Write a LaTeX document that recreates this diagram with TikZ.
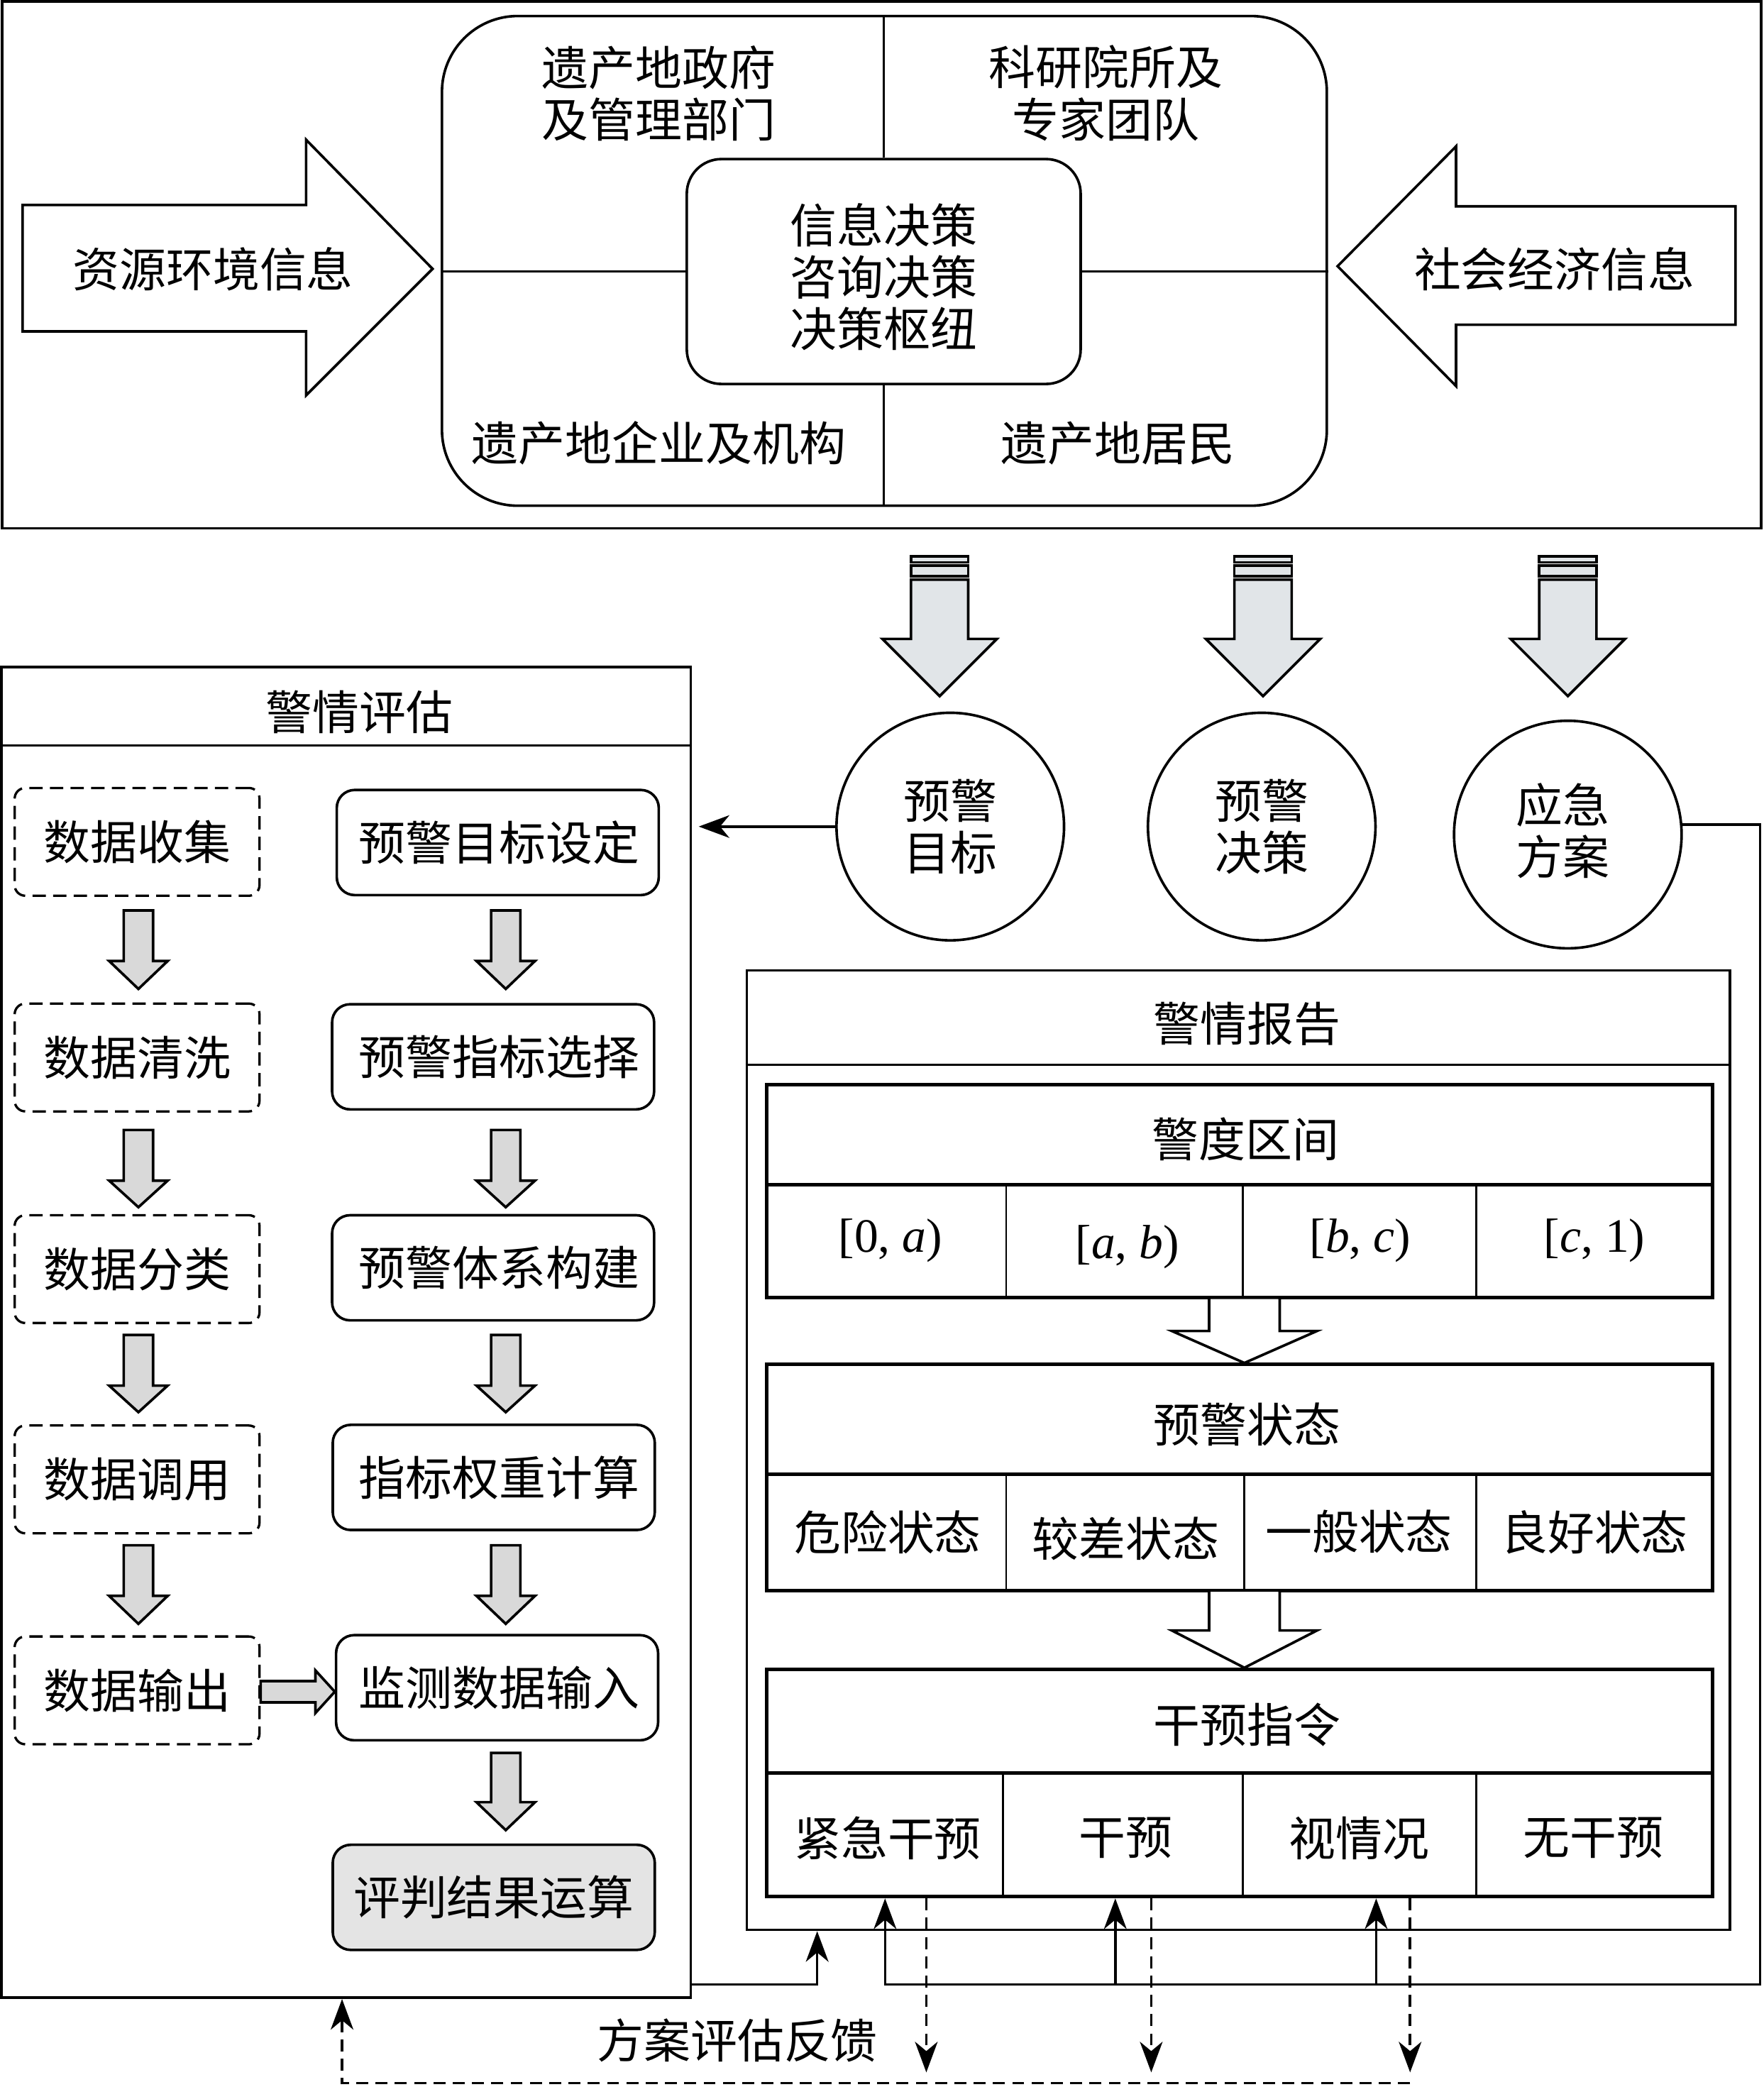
\documentclass[tikz,border=0pt]{standalone}
\usepackage{fontspec}
\setmainfont{Noto Sans CJK SC}
\newfontfamily\lserif{Liberation Serif}
\usetikzlibrary{arrows.meta}
\definecolor{topgray}{HTML}{E1E5E8}
\definecolor{boxgray}{HTML}{D9D9D9}
\definecolor{resgray}{HTML}{E4E4E4}
\newcommand\blockdown[7]{%
  \draw[#1] ({#2-#6},#3) -- ({#2+#6},#3) -- ({#2+#6},#4) -- ({#2+#7},#4) -- (#2,#5) -- ({#2-#7},#4) -- ({#2-#6},#4) -- cycle;}
\newcommand\stripedown[1]{%
  \draw[toparrow] ({#1-21.5},418) rectangle ({#1+21.5},422.5);
  \draw[toparrow] ({#1-21.5},425) rectangle ({#1+21.5},433);
  \blockdown{toparrow}{#1}{435.5}{480}{523}{21.5}{43}}
\begin{document}
\begin{tikzpicture}[x=0.02cm,y=-0.02cm,
  every node/.style={font=\fontsize{20}{22.2}\selectfont, inner sep=0pt, align=center},
  frame/.style={draw, line width=1.1pt},
  toparrow/.style={draw, line width=1.1pt, fill=topgray},
  grayarr/.style={draw, line width=1.1pt, fill=boxgray},
  hollow/.style={draw, line width=1.1pt, fill=white},
  dbox/.style={draw, line width=1pt, dash pattern=on 0.2cm off 0.11cm, rounded corners=0.16cm, minimum width=3.68cm, minimum height=1.62cm},
  sbox/.style={draw, line width=1.1pt, rounded corners=0.27cm, minimum width=4.84cm, minimum height=1.58cm},
  circ/.style={draw, circle, line width=1.1pt, minimum size=3.42cm},
  tbl/.style={draw, line width=1.5pt, minimum width=14.22cm},
  tline/.style={line width=1.5pt},
  dline/.style={line width=0.9pt},
  conn/.style={line width=1.1pt},
  fb/.style={line width=1.1pt, dash pattern=on 0.18cm off 0.11cm},
  arr/.style={-{Stealth[length=0.46cm,width=0.34cm,inset=0.14cm]}},
  ival/.style={font=\lserif\fontsize{20.5}{24}\selectfont}
]
\useasboundingbox (0,0) rectangle (1325,1568);

% ---------------- top panel ----------------
\node[frame, minimum width=26.44cm, minimum height=7.92cm] (top) at (662.5,199) {};
\node[frame, rounded corners=1.14cm, minimum width=13.3cm, minimum height=7.36cm] (hub) at (664.5,196) {};
\node[frame, rounded corners=0.52cm, minimum width=5.92cm, minimum height=3.38cm, fill=white] (core) at (664,204) {};
\node (coretxt) at (664,208) {信息决策\\咨询决策\\决策枢纽};
\draw[frame] (core.north) -- (core.north |- hub.north);
\draw[frame] (core.south) -- (core.south |- hub.south);
\draw[frame] (core.west) -- (core.west -| hub.west);
\draw[frame] (core.east) -- (core.east -| hub.east);
\node (gov) at (495,70) {遗产地政府\\及管理部门};
\node (sci) at (831,70) {科研院所及\\专家团队};
\node (ent) at (495,333) {遗产地企业及机构};
\node (res) at (840,333) {遗产地居民};
% big side arrows
\draw[frame] (17,154) -- (230,154) -- (230,105) -- (325,202) -- (230,297) -- (230,249) -- (17,249) -- cycle;
\node (envinfo) at (160,202) {资源环境信息};
\draw[frame] (1304,155) -- (1094,155) -- (1094,110) -- (1005,200) -- (1094,290) -- (1094,244) -- (1304,244) -- cycle;
\node (socinfo) at (1168,202) {社会经济信息};

% ---------------- striped arrows + circles ----------------
\stripedown{706}
\stripedown{949}
\stripedown{1178}
\node[circ] (c1) at (714,621) {预警\\目标};
\node[circ] (c2) at (948,621) {预警\\决策};
\node[circ] (c3) at (1178,627) {};
\node (c3t) at (1174,624) {应急\\方案};

% ---------------- left box ----------------
\node[frame, minimum width=10.36cm, minimum height=20cm] (lbox) at (260,1001) {};
\draw[frame] (lbox.west |- 0,560) -- (lbox.east |- 0,560);
\node (ltitle) at (270,535) {警情评估};

\node[dbox] (d1) at (103,632.5) {数据收集};
\node[dbox] (d2) at (103,794.5) {数据清洗};
\node[dbox] (d3) at (103,953.5) {数据分类};
\node[dbox] (d4) at (103,1111.5) {数据调用};
\node[dbox] (d5) at (103,1270) {数据输出};

\node[sbox] (s1) at (374,633) {};
\node[sbox] (s2) at (370.5,794) {};
\node[sbox] (s3) at (370.5,952.5) {};
\node[sbox] (s4) at (371,1110) {};
\node[sbox] (s5) at (373.5,1268) {};
\node[sbox, fill=resgray] (s6) at (371,1425.5) {};
\node (s1t) at (375,633) {预警目标设定};
\node (s2t) at (375,794) {预警指标选择};
\node (s3t) at (375,952.5) {预警体系构建};
\node (s4t) at (375,1110) {指标权重计算};
\node (s5t) at (375,1268) {监测数据输入};
\node (s6t) at (371,1425.5) {评判结果运算};

\blockdown{grayarr}{104}{684}{722}{743}{11}{22}
\blockdown{grayarr}{104}{849}{887}{907}{11}{22}
\blockdown{grayarr}{104}{1003}{1041}{1061}{11}{22}
\blockdown{grayarr}{104}{1161}{1199}{1220}{11}{22}
\blockdown{grayarr}{380}{684}{722}{743}{11}{22}
\blockdown{grayarr}{380}{849}{887}{907}{11}{22}
\blockdown{grayarr}{380}{1003}{1041}{1061}{11}{22}
\blockdown{grayarr}{380}{1161}{1199}{1220}{11}{22}
\blockdown{grayarr}{380}{1317}{1354}{1375}{11}{22}
\draw[grayarr] (d5.east |- 0,1263) -- (237,1263) -- (237,1255) -- (s5.west |- 0,1271) -- (237,1287) -- (237,1279) -- (d5.east |- 0,1279) -- cycle;

% ---------------- report box ----------------
\node[frame, minimum width=14.78cm, minimum height=14.42cm] (rbox) at (930.5,1089.5) {};
\draw[frame] (rbox.west |- 0,800) -- (rbox.east |- 0,800);
\node (rtitle) at (937,769) {警情报告};

% table 1
\node[tbl, minimum height=3.2cm] (t1) at (931.5,895) {};
\draw[tline] (t1.west |- 0,890) -- (t1.east |- 0,890);
\draw[dline] (756,890) -- (756,975);
\draw[dline] (934,890) -- (934,975);
\draw[dline] (1109,890) -- (1109,975);
\node (t1h) at (936,856) {警度区间};
\node[ival] (i1) at (669,932) {[0, \textit{a})};
\node[ival] (i2) at (847,937) {[\textit{a}, \textit{b})};
\node[ival] (i3) at (1022,932) {[\textit{b}, \textit{c})};
\node[ival] (i4) at (1198,932) {[\textit{c}, 1)};

\blockdown{hollow}{935}{975}{1000}{1024}{26.5}{54.5}

% table 2
\node[tbl, minimum height=3.4cm] (t2) at (931.5,1110) {};
\draw[tline] (t2.west |- 0,1107.5) -- (t2.east |- 0,1107.5);
\draw[dline] (756,1107.5) -- (756,1195);
\draw[dline] (935,1107.5) -- (935,1195);
\draw[dline] (1109,1107.5) -- (1109,1195);
\node (t2h) at (937,1070) {预警状态};
\node (w1) at (667,1151) {危险状态};
\node (w2) at (846,1156) {较差状态};
\node (w3) at (1021,1151) {一般状态};
\node (w4) at (1198,1151) {良好状态};

\blockdown{hollow}{935}{1195}{1225}{1253}{26.5}{54.5}

% table 3
\node[tbl, minimum height=3.42cm] (t3) at (931.5,1339.5) {};
\draw[tline] (t3.west |- 0,1332) -- (t3.east |- 0,1332);
\draw[dline] (753.5,1332) -- (753.5,1425);
\draw[dline] (934,1332) -- (934,1425);
\draw[dline] (1109,1332) -- (1109,1425);
\node (t3h) at (937,1296) {干预指令};
\node (k1) at (667,1381) {紧急干预};
\node (k2) at (846,1381) {干预};
\node (k3) at (1021,1381) {视情况};
\node (k4) at (1197,1381) {无干预};

% ---------------- connectors ----------------
\coordinate (a0) at (525,621);
\draw[conn,arr] (c1.west) -- (c1.west -| a0);

\coordinate (j0) at (614,1491);
\draw[conn,arr] (lbox.east |- j0) -- (j0) -- (j0 |- rbox.south);

\coordinate (rc) at (1322.5,620);
\coordinate (j1) at (665,1491);
\coordinate (j2) at (838,1491);
\coordinate (j3) at (1034,1491);
\draw[conn,arr] (c3.5) -- (c3.5 -| rc) -- (rc |- j1) -- (j1) -- (j1 |- t3.south);
\draw[conn,arr] (j2) -- (j2 |- t3.south);
\draw[conn,arr] (j3) -- (j3 |- t3.south);

\coordinate (f1) at (696,1557);
\coordinate (f2) at (865,1557);
\coordinate (f3) at (1059.5,1557);
\draw[fb,arr] (f1 |- t3.south) -- (f1);
\draw[fb,arr] (f2 |- t3.south) -- (f2);
\draw[fb,arr] (f3 |- t3.south) -- (f3);
\coordinate (fe) at (1059.5,1565);
\coordinate (fs) at (257,1565);
\draw[fb,arr] (fe) -- (fs) -- (fs |- lbox.south);
\node (fbl) at (554,1533) {方案评估反馈};
\end{tikzpicture}
\end{document}
